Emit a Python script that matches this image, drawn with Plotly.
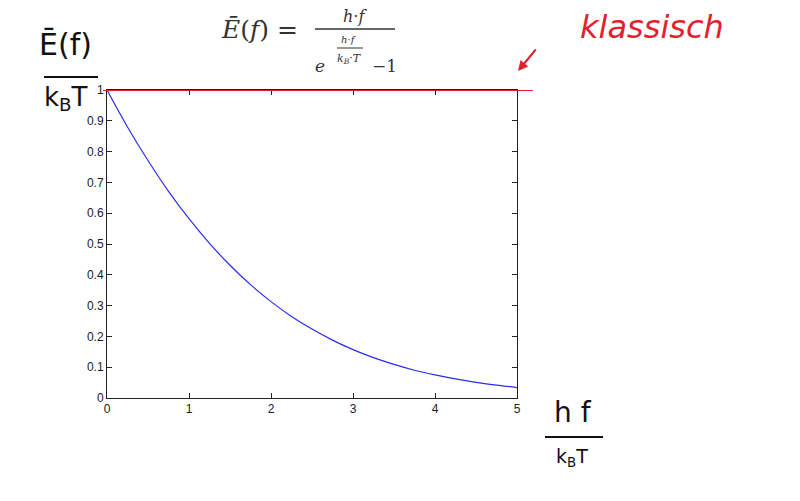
import plotly.graph_objects as go

# hf/kT values and the mean energy E(f)/kT
x_vals = [0, 0.25, 0.5, 0.75, 1, 1.25, 1.5, 1.75, 2, 2.25, 2.5,
          2.75, 3, 3.25, 3.5, 3.75, 4, 4.25, 4.5, 4.75, 5]
e_vals = [1.0, 0.880, 0.771, 0.671, 0.582, 0.502, 0.431, 0.368, 0.313, 0.265, 0.224,
          0.188, 0.157, 0.131, 0.109, 0.090, 0.075, 0.062, 0.051, 0.042, 0.034]

# classical limit (hand-drawn red line)
classical = 1.0

x_ticks = [0, 1, 2, 3, 4, 5]
y_ticks = [0, 0.1, 0.2, 0.3, 0.4, 0.5, 0.6, 0.7, 0.8, 0.9, 1]
y_tick_text = ['0', '0.1', '0.2', '0.3', '0.4', '0.5', '0.6', '0.7', '0.8', '0.9', '1']

# plot area in window pixels; the page body adds an 8px offset
L, R, T, B = 107, 517, 90, 398
OFF = 8
W, H = 800, 501


def px(x):
    return (x - L) / (R - L)


def py(y):
    return (B - y) / (B - T)


fig = go.Figure()

fig.add_trace(go.Scatter(
    x=x_vals, y=e_vals, mode='lines', line=dict(color='#2b2bff', width=1.2, shape='spline'),
    showlegend=False, hoverinfo='skip'
))

axis_style = dict(
    showgrid=False, zeroline=False, showline=True, linecolor='#222', linewidth=1,
    mirror='ticks', ticks='inside', ticklen=5, tickcolor='#222',
    tickfont=dict(family='Liberation Sans, Arial', size=12, color='#1a1a2e'),
)

fig.update_layout(
    width=W, height=H,
    margin=dict(l=L - OFF, r=W - R + OFF, t=T - OFF, b=H - B + OFF),
    plot_bgcolor='white', paper_bgcolor='white',
    xaxis=dict(range=[0, 5], tickvals=x_ticks, **axis_style),
    yaxis=dict(range=[0, 1], tickvals=y_ticks, ticktext=y_tick_text, **axis_style),
)

# red classical line
fig.add_shape(type='line', xref='paper', yref='y', x0=px(103), x1=px(533),
              y0=classical, y1=classical, line=dict(color='#e3202c', width=2))

serif = 'DejaVu Serif, Liberation Serif, serif'
gray = '#333333'


def note(text, x, y, size, color=gray, family=serif, anchor='center'):
    fig.add_annotation(text=text, xref='paper', yref='paper', x=px(x), y=py(y),
                       xanchor=anchor, yanchor='middle', showarrow=False,
                       font=dict(family=family, size=size, color=color))


def hline(x0, x1, y, color=gray, width=1.5):
    fig.add_shape(type='line', xref='paper', yref='paper', x0=px(x0), x1=px(x1),
                  y0=py(y), y1=py(y), line=dict(color=color, width=width))


# title formula
note('<i>Ē</i>(<i>f</i>) =', 259, 29, 25)
note('<i>h</i>·<i>f</i>', 355, 16, 16)
hline(315, 395, 29)
note('<i>e</i>', 320, 66, 17)
note('<i>h</i>·<i>f</i>', 349, 39, 10)
hline(337, 363, 48, width=1)
note('<i>k</i><sub><i>B</i></sub>·<i>T</i>', 349, 59, 11)
note('−1', 384, 66, 17)

# handwritten annotations
hand = 'DejaVu Sans, sans-serif'
note('Ē(f)', 65, 44, 30, color='#111', family=hand)
hline(44, 98, 77, color='#111', width=2)
note('k<sub>B</sub>T', 66, 98, 26, color='#111', family=hand)

note('h f', 573, 412, 28, color='#111', family=hand)
hline(545, 603, 437, color='#111', width=2)
note('k<sub>B</sub>T', 572, 457, 19, color='#111', family=hand)

note('<i>klassisch</i>', 652, 27, 32, color='#e3202c', family=hand)
fig.add_annotation(xref='paper', yref='paper', x=px(518), y=py(71),
                   ax=19, ay=-23, text='', showarrow=True, arrowhead=2,
                   arrowsize=1, arrowwidth=2, arrowcolor='#e3202c')

fig.write_html('out.html')
